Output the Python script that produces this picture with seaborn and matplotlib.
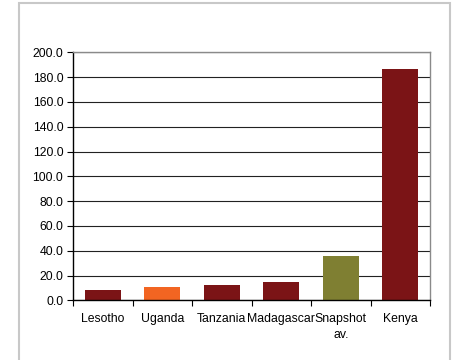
import matplotlib
matplotlib.use("Agg")
import matplotlib.pyplot as plt
import seaborn as sns
import pandas as pd
from matplotlib.patches import Rectangle
from matplotlib.ticker import FixedLocator, MultipleLocator, FormatStrFormatter

countries = ["Lesotho", "Uganda", "Tanzania", "Madagascar", "Snapshot\nav.", "Kenya"]
values = [8.3, 10.7, 12.6, 14.8, 36.0, 186.5]
bar_colors = ["#7B1416", "#F26522", "#7B1416", "#7B1416", "#7F7F32", "#7B1416"]

sns.set_theme(style="white")
plt.rcParams["font.family"] = ["Liberation Sans", "DejaVu Sans"]

df = pd.DataFrame({"country": countries, "value": values})

fig = plt.figure(figsize=(4.53, 3.6), dpi=100)
fig.patch.set_facecolor("white")
fig.patches.append(Rectangle((19 / 453, -0.01), (450 - 19) / 453, (357 / 360) + 0.01,
                             transform=fig.transFigure, fill=False,
                             edgecolor="#C8C8C8", linewidth=1.5, zorder=0))

ax = fig.add_axes([73 / 453, (360 - 300.3) / 360, 357 / 453, 248 / 360])
sns.barplot(data=df, x="country", y="value", hue="country",
            palette=dict(zip(countries, bar_colors)), legend=False,
            width=0.6, saturation=1, linewidth=0, ax=ax)

ax.set_ylim(0, 200)
ax.set_xlim(-0.5, len(countries) - 0.5)
ax.yaxis.set_major_locator(MultipleLocator(20))
ax.yaxis.set_major_formatter(FormatStrFormatter("%.1f"))
ax.grid(axis="y", color="#222222", linewidth=0.8)
ax.set_axisbelow(True)
ax.set_xlabel("")
ax.set_ylabel("")

for side in ("top", "right"):
    ax.spines[side].set_color("#8A8A8A")
    ax.spines[side].set_linewidth(1.0)
for side in ("left", "bottom"):
    ax.spines[side].set_color("black")
    ax.spines[side].set_linewidth(1.0)

ax.tick_params(axis="y", which="major", direction="out", length=4, width=0.8,
               color="black", left=True, labelsize=8.8, pad=3, labelcolor="black")
ax.xaxis.set_minor_locator(FixedLocator([i - 0.5 for i in range(len(countries) + 1)]))
ax.tick_params(axis="x", which="major", length=0, labelsize=8.8, pad=9, labelcolor="black")
ax.tick_params(axis="x", which="minor", direction="out", length=4, width=0.8,
               color="black", bottom=True)
for lbl in ax.get_xticklabels():
    lbl.set_linespacing(1.45)

fig.savefig("out.png", dpi=100, facecolor="white")
